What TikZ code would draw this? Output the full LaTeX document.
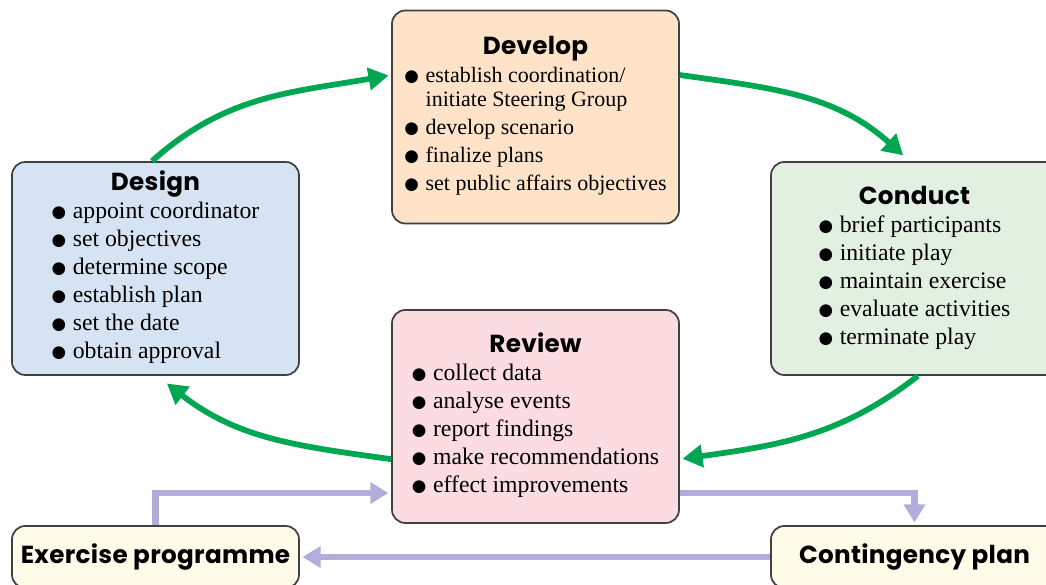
\documentclass[tikz,border=0pt]{standalone}
\usepackage{fontspec}
\setmainfont{Liberation Serif}
\newfontfamily\titlefont[LetterSpace=1.2]{Poppins}
\newfontfamily\symfont{DejaVu Sans}
\usetikzlibrary{arrows.meta}
\definecolor{cycgreen}{HTML}{00A651}
\definecolor{flowpurple}{HTML}{B1AFDA}
\definecolor{boxline}{HTML}{404040}
\definecolor{designfill}{HTML}{D5E3F3}
\definecolor{developfill}{HTML}{FEE3C8}
\definecolor{conductfill}{HTML}{E2F0E2}
\definecolor{reviewfill}{HTML}{FBDCE0}
\definecolor{progfill}{HTML}{FEFBE9}
\newcommand{\bul}{\raisebox{0.6pt}{\symfont\fontsize{12.5}{12.5}\selectfont ●}}
\newcommand{\ttl}[1]{{\titlefont\bfseries\fontsize{18.5}{20}\selectfont #1}}
\tikzset{
  box/.style={draw=boxline, line width=1.3pt, rounded corners=10pt,
    minimum width=215.25pt, minimum height=159.75pt, inner sep=0pt,
    font=\fontsize{17.8}{21}\selectfont},
  smallbox/.style={draw=boxline, line width=1.3pt, rounded corners=10pt,
    minimum width=215.25pt, minimum height=46.5pt, inner sep=0pt, fill=progfill},
  cyc/.style={draw=cycgreen, line width=4.3pt, -{Triangle[length=15pt,width=16.5pt]}, shorten >=2pt},
  flow/.style={draw=flowpurple, line width=5pt, -{Triangle[length=13.5pt,width=15.5pt]}, shorten >=2pt},
}
\begin{document}
\begin{tikzpicture}[x=0.75pt,y=-0.75pt]
\useasboundingbox (0,0) rectangle (1046,585);
\path[clip] (0,0) rectangle (1046,585);

\node[box, fill=designfill] (design) at (155.5,268.5) {%
\begin{tabular}{@{}c@{}}\ttl{Design}\\
\begin{tabular}[t]{@{}c@{\hspace{5pt}}l@{}}
\bul & appoint coordinator\\
\bul & set objectives\\
\bul & determine scope\\
\bul & establish plan\\
\bul & set the date\\
\bul & obtain approval
\end{tabular}\end{tabular}};

\node[box, fill=developfill, font=\fontsize{16.5}{21}\selectfont] (develop) at (535.5,117) {%
\begin{tabular}{@{}c@{}}\ttl{Develop}\\
\begin{tabular}[t]{@{}c@{\hspace{5pt}}l@{}}
\bul & establish coordination/\\[-3pt]
 & initiate Steering Group\\
\bul & develop scenario\\
\bul & finalize plans\\
\bul & set public affairs objectives
\end{tabular}\end{tabular}};

\node[box, fill=conductfill] (conduct) at (914.5,268.5) {%
\begin{tabular}{@{}c@{}}\ttl{Conduct}\\
\begin{tabular}[t]{@{}c@{\hspace{5pt}}l@{}}
\bul & brief participants\\
\bul & initiate play\\
\bul & maintain exercise\\
\bul & evaluate activities\\
\bul & terminate play
\end{tabular}\end{tabular}};

\node[box, fill=reviewfill] (review) at (535.5,416.5) {%
\begin{tabular}{@{}c@{}}\ttl{Review}\\
\begin{tabular}[t]{@{}c@{\hspace{5pt}}l@{}}
\bul & collect data\\
\bul & analyse events\\
\bul & report findings\\
\bul & make recommendations\\
\bul & effect improvements
\end{tabular}\end{tabular}};

\node[smallbox] (exercise) at (155.5,557) {\ttl{Exercise programme}};
\node[smallbox] (contingency) at (914.5,557) {\ttl{Contingency plan}};

\draw[cyc] ([xshift=-2.6pt]design.north) to[out=42,in=190] ([yshift=31.5pt]develop.west);
\draw[cyc] ([yshift=31.5pt]develop.east) to[out=-8,in=138] ([xshift=-7pt,yshift=3pt]conduct.north);
\draw[cyc] ([xshift=2.6pt]conduct.south) to[out=218,in=8] ([yshift=-32pt]review.east);
\draw[cyc] ([yshift=-32pt]review.west) to[out=172,in=-38] ([xshift=7pt,yshift=-4.5pt]design.south);

\draw[flow] (exercise.north) |- ([yshift=-57.4pt]review.west);
\draw[flow] ([yshift=-57.4pt]review.east) -| (contingency.north);
\draw[flow] (contingency.west) -- (exercise.east);
\end{tikzpicture}
\end{document}
